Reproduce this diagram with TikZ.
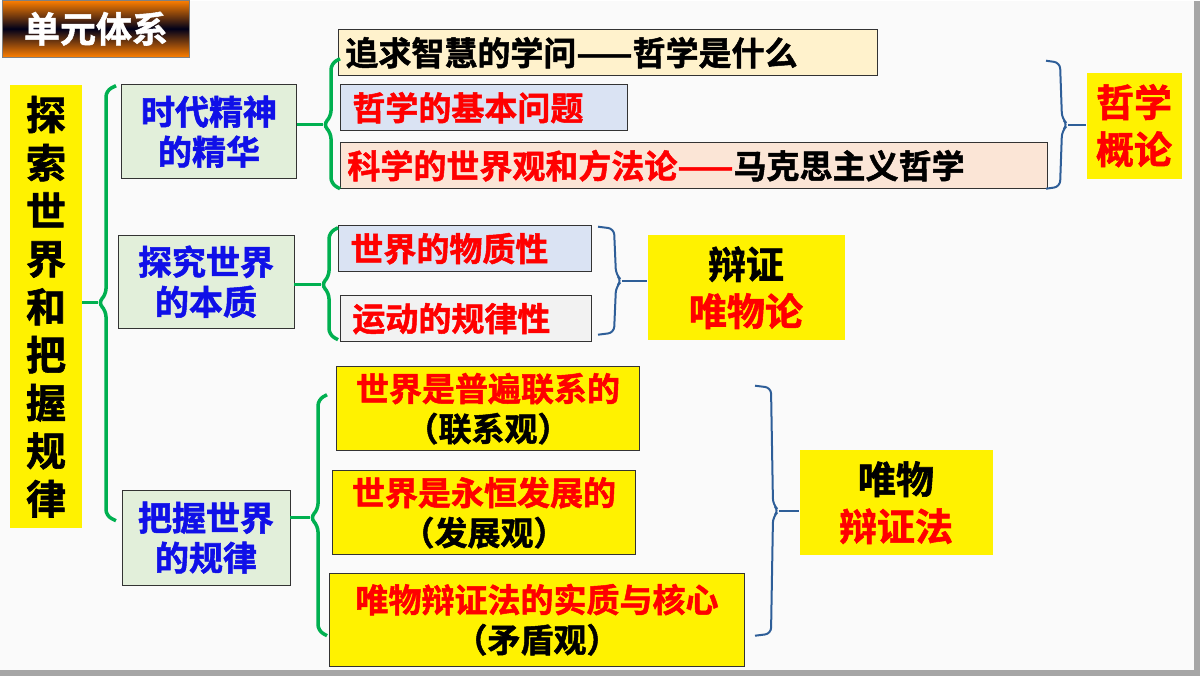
\documentclass[tikz,border=0pt]{standalone}
\usepackage{fontspec}
\setmainfont{Noto Sans CJK SC Bold}[FakeBold=1.5]
\usetikzlibrary{positioning}
\definecolor{mgreen}{HTML}{00B050}
\definecolor{mblue}{HTML}{2E5E98}
\definecolor{lgreen}{HTML}{E2EFDA}
\definecolor{lyel}{HTML}{FFF2CC}
\definecolor{lblue}{HTML}{DAE3F3}
\definecolor{lpink}{HTML}{FBE5D6}
\definecolor{lgray}{HTML}{F2F2F2}
\definecolor{tblue}{HTML}{1010E8}
\tikzset{
  topic/.style = {rectangle, draw=black!80, thick, fill=lgreen, text=tblue, font=\fontsize{34}{40}\selectfont, align=center, inner sep=0pt},
  item/.style = {rectangle, draw=black!80, thick, text=red, font=\fontsize{33}{36}\selectfont, anchor=west, inner sep=0pt, minimum height=46pt, align=left},
  pt/.style = {rectangle, draw=black!80, thick, fill=yellow, text=red, font=\fontsize{33}{40}\selectfont, align=center, inner sep=0pt, minimum height=84pt},
  result/.style = {rectangle, fill=yellow, text=red, font=\fontsize{38}{47}\selectfont, align=center, inner sep=0pt},
  gbrace/.style = {mgreen, line width=3.5pt, rounded corners=6pt},
  bbrace/.style = {mblue, line width=2pt, rounded corners=6pt},
  gline/.style = {mgreen, line width=3.5pt},
  bline/.style = {mblue, line width=2pt}
}
\begin{document}
\begin{tikzpicture}[x=1pt, y=-1pt]
  \fill[gray!70] (0,0) rectangle (1200,675);
  \fill[white!96!gray] (0,0) rectangle (1194,669);
  % title
  \node (title) [minimum width=187pt, minimum height=57pt, top color=orange, bottom color=orange, middle color=black!90!blue, text=white, draw=gray, font=\fontsize{36}{36}\selectfont, inner sep=0pt] at (96,28) {单元体系};
  % root
  \node (root) [fill=yellow, minimum width=72pt, minimum height=443pt, align=center, font=\fontsize{40}{48}\selectfont, inner sep=0pt] at (46,306) {探\\索\\世\\界\\和\\把\\握\\规\\律};
  % topics
  \node (era) [topic, minimum width=175pt, minimum height=94pt] at (209,131) {时代精神\\的精华};
  \node (ess) [topic, minimum width=176pt, minimum height=93pt] at (206,281) {探究世界\\的本质};
  \node (law) [topic, minimum width=168pt, minimum height=95pt] at (206,537) {把握世界\\的规律};
  % items
  \node (wis) [item, fill=lyel, text=black, text width=525pt, inner xsep=7pt] at (338,52) {追求智慧的学问——哲学是什么};
  \node (basic) [item, fill=lblue, text width=263pt, inner xsep=12pt] at (340,107) {哲学的基本问题};
  \node (sci) [item, fill=lpink, text width=693pt, inner xsep=7pt] at (340,165) {科学的世界观和方法论——\textcolor{black}{马克思主义哲学}};
  \node (mat) [item, fill=lblue, text width=229pt, inner xsep=12pt] at (338,248) {世界的物质性};
  \node (mov) [item, fill=lgray, text width=227pt, inner xsep=12pt] at (340,318) {运动的规律性};
  \node (conn) [pt, minimum width=303pt] at (488,408) {世界是普遍联系的\\\textcolor{black}{（联系观）}};
  \node (dev) [pt, minimum width=303pt] at (484,512) {世界是永恒发展的\\\textcolor{black}{（发展观）}};
  \node (cont) [pt, minimum width=415pt, minimum height=93pt] at (537,619) {唯物辩证法的实质与核心\\\textcolor{black}{（矛盾观）}};
  % results
  \node (phil) [result, minimum width=95pt, minimum height=106pt] at (1134,125) {哲学\\概论};
  \node (mater) [result, minimum width=197pt, minimum height=105pt, text=black] at (746,287) {辩证\\\textcolor{red}{唯物论}};
  \node (dial) [result, minimum width=193pt, minimum height=105pt, text=black] at (896,502) {唯物\\\textcolor{red}{辩证法}};
  % green braces
  \draw[gbrace] (116,85) -- (106,90) -- (106,294) -- (98,302) -- (106,310) -- (106,515) -- (116,520);
  \draw[gline] (root.east |- 0,302) -- (98,302);
  \draw[gbrace] (340,58) -- (331,63) -- (331,116) -- (323,124) -- (331,132) -- (331,183) -- (340,188);
  \draw[gline] (era.east |- 0,124) -- (323,124);
  \draw[gbrace] (338,227) -- (329,232) -- (329,276) -- (321,284) -- (329,292) -- (329,334) -- (338,339);
  \draw[gline] (ess.east |- 0,284) -- (321,284);
  \draw[gbrace] (327,394) -- (318,399) -- (318,509) -- (310,517) -- (318,525) -- (318,630) -- (327,635);
  \draw[gline] (law.east |- 0,517) -- (310,517);
  % blue braces
  \draw[bbrace] (1046,60) -- (1060,62) -- (1062,118) -- (1068,124) -- (1062,130) -- (1060,186) -- (1046,188);
  \draw[bline] (1068,124) -- (phil.west |- 0,124);
  \draw[bbrace] (598,226) -- (614,228) -- (616,274) -- (622,280) -- (616,286) -- (614,332) -- (598,334);
  \draw[bline] (622,280) -- (mater.west |- 0,280);
  \draw[bbrace] (755,385) -- (771,387) -- (773,504) -- (779,510) -- (773,516) -- (771,633) -- (755,635);
  \draw[bline] (779,510) -- (dial.west |- 0,510);
\end{tikzpicture}
\end{document}
